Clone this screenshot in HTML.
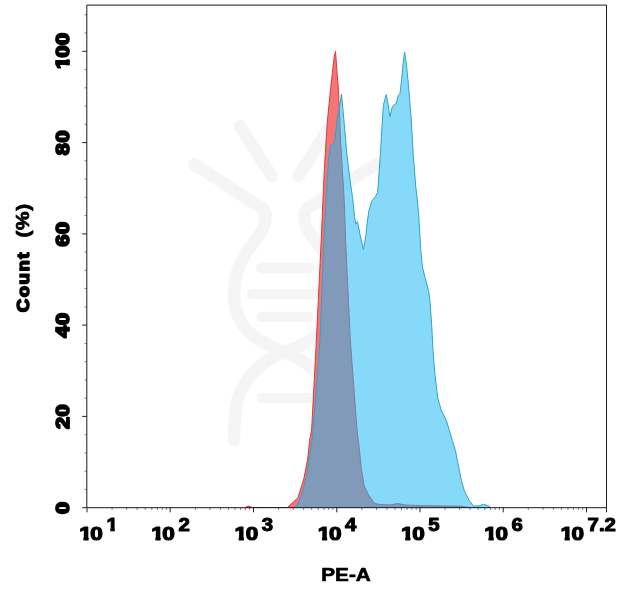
<!DOCTYPE html>
<html><head><meta charset="utf-8"><title>PE-A histogram</title>
<style>
html,body{margin:0;padding:0;background:#fff;}
body{width:620px;height:594px;overflow:hidden;}
svg{display:block;}
text{font-family:"Liberation Sans",Arial,sans-serif;font-weight:bold;fill:#000;stroke:#000;stroke-linejoin:round;}
.b{font-size:18.8px;stroke-width:1.2px;}
.s{font-size:17.8px;stroke-width:1.0px;}
.y{font-size:18.0px;stroke-width:1.8px;}
.c{font-size:17.2px;stroke-width:1.6px;}
.p{font-size:17.8px;stroke-width:0.7px;}
.t{font-size:17.6px;stroke-width:0.6px;}
.c{letter-spacing:1.4px;}
.y{letter-spacing:0.45px;}
.p{letter-spacing:0.5px;}
.tk line{stroke:#222;stroke-width:1;}
.tk line.m{stroke:#777;stroke-width:0.9;}
</style></head><body>
<svg width="620" height="594" viewBox="0 0 620 594">
<defs><clipPath id="kb" clipPathUnits="userSpaceOnUse"><rect x="-2.00" y="-18.80" width="18.80" height="15.68"/><rect x="3.52" y="-5.64" width="4.24" height="6.74"/></clipPath><clipPath id="ks" clipPathUnits="userSpaceOnUse"><rect x="-2.00" y="-17.80" width="17.80" height="14.90"/><rect x="3.38" y="-5.34" width="3.91" height="6.34"/></clipPath><clipPath id="ky" clipPathUnits="userSpaceOnUse"><rect x="-2.00" y="-18.00" width="18.00" height="14.68"/><rect x="3.03" y="-5.40" width="4.74" height="6.80"/></clipPath></defs>
<rect width="620" height="594" fill="#fff"/>
<g fill="none" stroke="#f5f5f5" stroke-width="12.5" stroke-linecap="round" stroke-linejoin="round">
<g>
<path d="M194.5,164.5 L262,208 Q266,211 265.5,217 L265,222 Q264,228 259,235 L246,253 Q234,272 234,294 Q234,318 250,333 Q262,344 285,352 Q320,366 331,395 Q336,410 336,440"/>
<path d="M240,126 L271.5,176"/>
</g>
<g transform="translate(570,0) scale(-1,1)">
<path d="M194.5,164.5 L262,208 Q266,211 265.5,217 L265,222 Q264,228 259,235 L246,253 Q234,272 234,294 Q234,318 250,333 Q262,344 285,352 Q320,366 331,395 Q336,410 336,440"/>
<path d="M240,126 L271.5,176"/>
</g>
<path d="M261,268 L309,268" stroke-width="10.5"/>
<path d="M252,294 L318,294" stroke-width="10.5"/>
<path d="M262,317 L308,317" stroke-width="10.5"/>
<path d="M262,398 L308,398" stroke-width="10.5"/>
</g>
<path d="M245.5,507.5 L247.0,506.6 L248.7,506.0 L250.5,506.6 L252.0,507.5 L287.4,507.5 L298.0,497.7 L303.9,478.4 L307.7,459.0 L309.7,440.0 L311.6,430.0 L316.4,340.0 L321.2,240.0 L324.3,170.0 L326.1,140.0 L327.5,120.0 L330.4,90.5 L332.3,73.7 L334.2,56.8 L335.5,51.4 L336.9,70.3 L338.5,90.5 L339.6,115.0 L340.5,140.0 L344.2,200.0 L345.6,240.0 L348.4,300.0 L350.3,340.0 L357.0,430.0 L359.4,449.4 L361.3,468.7 L364.2,486.0 L369.0,495.8 L374.8,503.5 L380.0,504.6 L390.0,504.9 L398.0,503.6 L405.0,505.0 L420.0,505.6 L460.0,506.2 L470.0,507.5 Z" fill="#f47674" stroke="#e2363b" stroke-width="1" stroke-linejoin="round"/>
<path d="M296.0,507.5 L302.0,494.0 L306.8,474.5 L310.6,449.0 L312.5,438.0 L320.0,340.0 L323.9,240.0 L326.5,190.0 L328.5,160.0 L330.6,145.0 L334.4,143.5 L337.0,120.0 L339.7,106.0 L341.5,94.0 L343.0,110.0 L344.8,130.0 L346.8,153.7 L350.7,185.0 L352.6,197.6 L354.5,216.6 L355.8,224.1 L357.5,221.6 L360.2,235.5 L363.4,249.4 L365.9,235.5 L367.1,222.9 L369.0,210.3 L371.6,201.4 L375.4,196.4 L377.7,192.6 L378.6,179.0 L380.4,153.7 L382.4,120.0 L383.5,104.6 L386.2,94.5 L388.2,104.6 L389.9,116.8 L392.2,107.3 L394.2,104.6 L396.3,103.3 L398.3,95.2 L399.9,93.9 L401.6,80.4 L403.0,64.2 L404.6,51.9 L406.4,64.2 L408.4,84.4 L409.7,100.6 L411.3,120.0 L413.2,153.7 L415.8,187.3 L417.4,200.0 L418.8,216.8 L420.8,250.5 L422.5,267.3 L425.9,280.8 L428.8,291.8 L430.2,303.6 L431.8,327.0 L433.0,350.7 L434.9,374.3 L437.7,397.8 L441.2,410.0 L446.3,420.2 L449.3,430.3 L452.3,440.4 L455.4,450.5 L457.4,460.6 L459.4,470.7 L461.4,480.8 L464.4,490.9 L469.5,501.0 L473.5,506.0 L478.0,506.0 L483.6,504.4 L487.5,505.5 L490.7,507.5 Z" fill="rgba(33,185,244,0.54)" stroke="#30a3c8" stroke-width="1" stroke-linejoin="round"/>
<g class="tk">
<line x1="87.0" y1="507.7" x2="87.0" y2="512.3"/>
<line class="m" x1="112.1" y1="507.7" x2="112.1" y2="510.0"/>
<line class="m" x1="126.7" y1="507.7" x2="126.7" y2="510.0"/>
<line class="m" x1="137.1" y1="507.7" x2="137.1" y2="510.0"/>
<line class="m" x1="145.2" y1="507.7" x2="145.2" y2="510.0"/>
<line class="m" x1="151.8" y1="507.7" x2="151.8" y2="510.0"/>
<line class="m" x1="157.4" y1="507.7" x2="157.4" y2="510.0"/>
<line class="m" x1="162.2" y1="507.7" x2="162.2" y2="510.0"/>
<line class="m" x1="166.4" y1="507.7" x2="166.4" y2="510.0"/>
<line x1="170.2" y1="507.7" x2="170.2" y2="512.3"/>
<line class="m" x1="195.3" y1="507.7" x2="195.3" y2="510.0"/>
<line class="m" x1="210.0" y1="507.7" x2="210.0" y2="510.0"/>
<line class="m" x1="220.4" y1="507.7" x2="220.4" y2="510.0"/>
<line class="m" x1="228.4" y1="507.7" x2="228.4" y2="510.0"/>
<line class="m" x1="235.0" y1="507.7" x2="235.0" y2="510.0"/>
<line class="m" x1="240.6" y1="507.7" x2="240.6" y2="510.0"/>
<line class="m" x1="245.4" y1="507.7" x2="245.4" y2="510.0"/>
<line class="m" x1="249.7" y1="507.7" x2="249.7" y2="510.0"/>
<line x1="253.5" y1="507.7" x2="253.5" y2="512.3"/>
<line class="m" x1="278.6" y1="507.7" x2="278.6" y2="510.0"/>
<line class="m" x1="293.2" y1="507.7" x2="293.2" y2="510.0"/>
<line class="m" x1="303.6" y1="507.7" x2="303.6" y2="510.0"/>
<line class="m" x1="311.7" y1="507.7" x2="311.7" y2="510.0"/>
<line class="m" x1="318.3" y1="507.7" x2="318.3" y2="510.0"/>
<line class="m" x1="323.9" y1="507.7" x2="323.9" y2="510.0"/>
<line class="m" x1="328.7" y1="507.7" x2="328.7" y2="510.0"/>
<line class="m" x1="332.9" y1="507.7" x2="332.9" y2="510.0"/>
<line x1="336.8" y1="507.7" x2="336.8" y2="512.3"/>
<line class="m" x1="361.8" y1="507.7" x2="361.8" y2="510.0"/>
<line class="m" x1="376.5" y1="507.7" x2="376.5" y2="510.0"/>
<line class="m" x1="386.9" y1="507.7" x2="386.9" y2="510.0"/>
<line class="m" x1="394.9" y1="507.7" x2="394.9" y2="510.0"/>
<line class="m" x1="401.5" y1="507.7" x2="401.5" y2="510.0"/>
<line class="m" x1="407.1" y1="507.7" x2="407.1" y2="510.0"/>
<line class="m" x1="411.9" y1="507.7" x2="411.9" y2="510.0"/>
<line class="m" x1="416.2" y1="507.7" x2="416.2" y2="510.0"/>
<line x1="420.0" y1="507.7" x2="420.0" y2="512.3"/>
<line class="m" x1="445.1" y1="507.7" x2="445.1" y2="510.0"/>
<line class="m" x1="459.7" y1="507.7" x2="459.7" y2="510.0"/>
<line class="m" x1="470.1" y1="507.7" x2="470.1" y2="510.0"/>
<line class="m" x1="478.2" y1="507.7" x2="478.2" y2="510.0"/>
<line class="m" x1="484.8" y1="507.7" x2="484.8" y2="510.0"/>
<line class="m" x1="490.4" y1="507.7" x2="490.4" y2="510.0"/>
<line class="m" x1="495.2" y1="507.7" x2="495.2" y2="510.0"/>
<line class="m" x1="499.4" y1="507.7" x2="499.4" y2="510.0"/>
<line x1="503.2" y1="507.7" x2="503.2" y2="512.3"/>
<line class="m" x1="528.3" y1="507.7" x2="528.3" y2="510.0"/>
<line class="m" x1="543.0" y1="507.7" x2="543.0" y2="510.0"/>
<line class="m" x1="553.4" y1="507.7" x2="553.4" y2="510.0"/>
<line class="m" x1="561.4" y1="507.7" x2="561.4" y2="510.0"/>
<line class="m" x1="568.0" y1="507.7" x2="568.0" y2="510.0"/>
<line class="m" x1="573.6" y1="507.7" x2="573.6" y2="510.0"/>
<line class="m" x1="578.4" y1="507.7" x2="578.4" y2="510.0"/>
<line class="m" x1="582.7" y1="507.7" x2="582.7" y2="510.0"/>
<line x1="586.5" y1="507.7" x2="586.5" y2="512.3"/>
<line x1="606.5" y1="507.7" x2="606.5" y2="512.3"/>
<line x1="82.2" y1="507.7" x2="86.8" y2="507.7"/>
<line class="m" x1="84.5" y1="489.4" x2="86.8" y2="489.4"/>
<line class="m" x1="84.5" y1="471.2" x2="86.8" y2="471.2"/>
<line class="m" x1="84.5" y1="452.9" x2="86.8" y2="452.9"/>
<line class="m" x1="84.5" y1="434.7" x2="86.8" y2="434.7"/>
<line x1="82.2" y1="416.4" x2="86.8" y2="416.4"/>
<line class="m" x1="84.5" y1="398.2" x2="86.8" y2="398.2"/>
<line class="m" x1="84.5" y1="379.9" x2="86.8" y2="379.9"/>
<line class="m" x1="84.5" y1="361.7" x2="86.8" y2="361.7"/>
<line class="m" x1="84.5" y1="343.4" x2="86.8" y2="343.4"/>
<line x1="82.2" y1="325.1" x2="86.8" y2="325.1"/>
<line class="m" x1="84.5" y1="306.9" x2="86.8" y2="306.9"/>
<line class="m" x1="84.5" y1="288.6" x2="86.8" y2="288.6"/>
<line class="m" x1="84.5" y1="270.4" x2="86.8" y2="270.4"/>
<line class="m" x1="84.5" y1="252.1" x2="86.8" y2="252.1"/>
<line x1="82.2" y1="233.9" x2="86.8" y2="233.9"/>
<line class="m" x1="84.5" y1="215.6" x2="86.8" y2="215.6"/>
<line class="m" x1="84.5" y1="197.3" x2="86.8" y2="197.3"/>
<line class="m" x1="84.5" y1="179.1" x2="86.8" y2="179.1"/>
<line class="m" x1="84.5" y1="160.8" x2="86.8" y2="160.8"/>
<line x1="82.2" y1="142.6" x2="86.8" y2="142.6"/>
<line class="m" x1="84.5" y1="124.3" x2="86.8" y2="124.3"/>
<line class="m" x1="84.5" y1="106.1" x2="86.8" y2="106.1"/>
<line class="m" x1="84.5" y1="87.8" x2="86.8" y2="87.8"/>
<line class="m" x1="84.5" y1="69.6" x2="86.8" y2="69.6"/>
<line x1="82.2" y1="51.3" x2="86.8" y2="51.3"/>
<line class="m" x1="84.5" y1="33.0" x2="86.8" y2="33.0"/>
<line class="m" x1="84.5" y1="14.8" x2="86.8" y2="14.8"/>
</g>
<path d="M86.8,507.7 L86.8,5.1 L606.5,5.1 L606.5,507.7 Z" fill="none" stroke="#1a1a1a" stroke-width="1"/>
<g transform="translate(77.8,540) scale(1.2,1)"><g transform="translate(1.20,0)" clip-path="url(#kb)"><text class="b" x="0" y="0">1</text></g><text class="b" x="10.45" y="0">0</text></g>
<g transform="translate(106.4,530.8) scale(1.145,1)"><g transform="translate(0.00,0)" clip-path="url(#ks)"><text class="s" x="0" y="0">1</text></g></g>
<g transform="translate(149.8,540) scale(1.2,1)"><g transform="translate(1.20,0)" clip-path="url(#kb)"><text class="b" x="0" y="0">1</text></g><text class="b" x="10.45" y="0">0</text></g>
<g transform="translate(178.4,530.8) scale(1.145,1)"><text class="s" x="0.00" y="0">2</text></g>
<g transform="translate(233.1,540) scale(1.2,1)"><g transform="translate(1.20,0)" clip-path="url(#kb)"><text class="b" x="0" y="0">1</text></g><text class="b" x="10.45" y="0">0</text></g>
<g transform="translate(261.7,530.8) scale(1.145,1)"><text class="s" x="0.00" y="0">3</text></g>
<g transform="translate(316.4,540) scale(1.2,1)"><g transform="translate(1.20,0)" clip-path="url(#kb)"><text class="b" x="0" y="0">1</text></g><text class="b" x="10.45" y="0">0</text></g>
<g transform="translate(345.0,530.8) scale(1.145,1)"><text class="s" x="0.00" y="0">4</text></g>
<g transform="translate(399.6,540) scale(1.2,1)"><g transform="translate(1.20,0)" clip-path="url(#kb)"><text class="b" x="0" y="0">1</text></g><text class="b" x="10.45" y="0">0</text></g>
<g transform="translate(428.2,530.8) scale(1.145,1)"><text class="s" x="0.00" y="0">5</text></g>
<g transform="translate(482.9,540) scale(1.2,1)"><g transform="translate(1.20,0)" clip-path="url(#kb)"><text class="b" x="0" y="0">1</text></g><text class="b" x="10.45" y="0">0</text></g>
<g transform="translate(511.5,530.8) scale(1.145,1)"><text class="s" x="0.00" y="0">6</text></g>
<g transform="translate(559.0,540) scale(1.2,1)"><g transform="translate(1.20,0)" clip-path="url(#kb)"><text class="b" x="0" y="0">1</text></g><text class="b" x="10.45" y="0">0</text></g>
<g transform="translate(587.6,530.8) scale(1.145,1)"><text class="s" x="0.00" y="0">7.2</text></g>
<g transform="translate(69.4,507.7) rotate(-90) scale(1.2,1) translate(-5.23,0)"><text class="y" x="0.00" y="0">0</text></g>
<g transform="translate(69.4,416.4) rotate(-90) scale(1.2,1) translate(-10.46,0)"><text class="y" x="0.00" y="0">20</text></g>
<g transform="translate(69.4,325.1) rotate(-90) scale(1.2,1) translate(-10.46,0)"><text class="y" x="0.00" y="0">40</text></g>
<g transform="translate(69.4,233.9) rotate(-90) scale(1.2,1) translate(-10.46,0)"><text class="y" x="0.00" y="0">60</text></g>
<g transform="translate(69.4,142.6) rotate(-90) scale(1.2,1) translate(-10.46,0)"><text class="y" x="0.00" y="0">80</text></g>
<g transform="translate(69.4,51.3) rotate(-90) scale(1.2,1) translate(-15.69,0)"><g transform="translate(1.00,0)" clip-path="url(#ky)"><text class="y" x="0" y="0">1</text></g><text class="y" x="10.46" y="0">00</text></g>
<text class="c" text-anchor="middle" transform="translate(28.6,281.6) rotate(-90) scale(1.08,1)" x="0" y="0">Count</text>
<text class="p" text-anchor="middle" transform="translate(28.6,220.4) rotate(-90) scale(1.17,1)" x="0" y="0">(%)</text>
<text class="t" text-anchor="middle" transform="translate(346,581) scale(1.18,1)" x="0" y="0">PE-A</text>
</svg>
</body></html>
